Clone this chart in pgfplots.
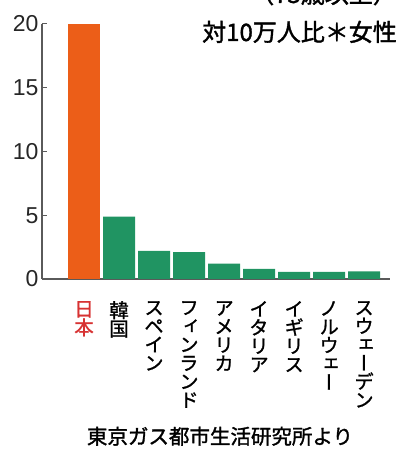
\documentclass[border=0pt]{standalone}
\usepackage{pgfplots}
\pgfplotsset{compat=1.18}
\usepackage{fontspec}
\setmainfont{Liberation Sans}
\newfontfamily\jp[FakeBold=1.5]{Noto Sans CJK JP}
\newfontfamily\jpv[RawFeature=+vert, FakeBold=1.2]{Noto Sans CJK JP}
\definecolor{barorange}{RGB}{236,94,24}
\definecolor{bargreen}{RGB}{32,148,98}
\definecolor{jpred}{RGB}{215,50,50}
\definecolor{axgray}{RGB}{90,90,90}
\begin{document}
\begin{tikzpicture}[x=1pt,y=1pt]
\path[use as bounding box, clip] (0,0) rectangle (398,452);
\begin{axis}[
  at={(42pt,173pt)}, anchor=south west,
  scale only axis, width=348pt, height=255pt,
  xmin=-1.2, xmax=8.74, ymin=0, ymax=20,
  axis x line=bottom, axis y line=left,
  axis line style={-, draw=axgray, line width=1.2pt},
  ytick={0,5,10,15,20},
  tick align=inside, major tick length=5pt,
  ytick style={draw=axgray, line width=1pt},
  xtick={0,...,8}, xtick style={draw=none},
  xticklabels={{\textcolor{jpred}{日}\\\textcolor{jpred}{本}},{韓\\国},{ス\\ペ\\イ\\ン},{フ\\ィ\\ン\\ラ\\ン\\ド},{ア\\メ\\リ\\カ},{イ\\タ\\リ\\ア},{イ\\ギ\\リ\\ス},{ノ\\ル\\ウ\\ェ\\ー},{ス\\ウ\\ェ\\ー\\デ\\ン}},
  xticklabel style={anchor=north, align=center, font=\jpv\fontsize{19.5}{18.5}\selectfont, yshift=-22pt, inner sep=0pt},
  yticklabel style={font=\fontsize{23}{24}\selectfont, text=black!85},
  /pgf/number format/assume math mode=true,
  clip=false,
]
\addplot[ybar, bar shift=0pt, bar width=32pt, fill=barorange, draw=none] coordinates {(0,20)};
\addplot[ybar, bar shift=0pt, bar width=32pt, fill=bargreen, draw=none] coordinates {(1,4.9) (2,2.2) (3,2.1) (4,1.2) (5,0.8) (6,0.55) (7,0.55) (8,0.6)};
\end{axis}
\node[anchor=base west, font=\jp\fontsize{24}{24}\selectfont, inner sep=0pt] at (250,449) {（75歳以上）};
\node[anchor=base west, font=\jp\fontsize{24}{24}\selectfont, inner sep=0pt] at (202,411) {対10万人比＊女性};
\node[anchor=base, font=\jp\fontsize{20.5}{20}\selectfont, inner sep=0pt] at (220,8) {東京ガス都市生活研究所より};
\end{tikzpicture}
\end{document}
